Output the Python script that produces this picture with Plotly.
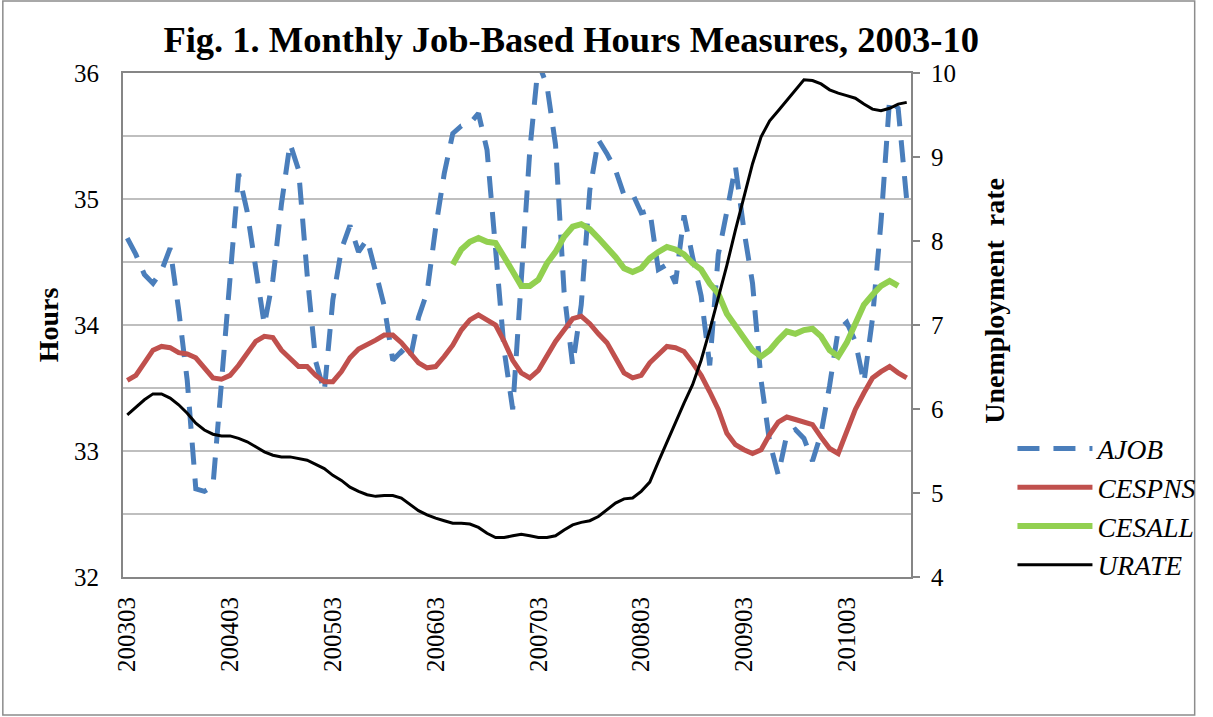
import plotly.graph_objects as go

# ---- data -------------------------------------------------------------
months = []
for yr in range(2003, 2011):
    for m in range(1, 13):
        if (yr == 2003 and m < 3) or (yr == 2010 and m > 10):
            continue
        months.append(f"{yr}{m:02d}")

tick_labels = ["200303", "200403", "200503", "200603",
               "200703", "200803", "200903", "201003"]

ajob = [34.69, 34.56, 34.40, 34.33, 34.43, 34.61, 34.12, 33.56, 32.70, 32.68,
        32.72, 33.54, 34.36, 35.20, 34.90, 34.44, 34.00, 34.36, 34.96, 35.44,
        35.23, 34.40, 33.71, 33.47, 34.20, 34.60, 34.79, 34.58, 34.68, 34.42,
        34.15, 33.72, 33.79, 33.72, 34.06, 34.26, 34.77, 35.20, 35.52, 35.58,
        35.60, 35.68, 35.39, 34.60, 33.80, 33.33, 34.36, 35.39, 36.08, 35.90,
        35.43, 34.26, 33.68, 34.16, 35.07, 35.47, 35.36, 35.23, 35.03, 35.04,
        34.89, 34.91, 34.44, 34.48, 34.33, 34.87, 34.54, 34.23, 33.68, 34.56,
        34.90, 35.26, 34.75, 34.33, 33.56, 33.07, 32.81, 33.13, 33.17, 33.10,
        32.92, 33.14, 33.52, 33.96, 34.02, 33.87, 33.54, 34.05, 34.82, 35.79,
        35.72, 34.99]

cespns = [33.56, 33.60, 33.70, 33.80, 33.83, 33.82, 33.78, 33.77, 33.74, 33.66,
          33.58, 33.57, 33.60, 33.68, 33.78, 33.87, 33.91, 33.90, 33.80, 33.74,
          33.67, 33.67, 33.60, 33.55, 33.55, 33.63, 33.74, 33.81, 33.84, 33.88,
          33.92, 33.92, 33.86, 33.78, 33.70, 33.66, 33.67, 33.75, 33.84, 33.96,
          34.04, 34.08, 34.04, 34.00, 33.87, 33.72, 33.62, 33.58, 33.64, 33.76,
          33.87, 33.96, 34.05, 34.07, 34.01, 33.93, 33.86, 33.74, 33.62, 33.58,
          33.60, 33.70, 33.76, 33.83, 33.82, 33.79, 33.70, 33.60, 33.47, 33.33,
          33.14, 33.05, 33.01, 32.98, 33.01, 33.13, 33.23, 33.27, 33.25, 33.23,
          33.21, 33.11, 33.02, 32.98, 33.15, 33.33, 33.46, 33.58, 33.63, 33.67,
          33.62, 33.58]

cesall = [None] * 38 + [
          34.48, 34.60, 34.66, 34.69, 34.66, 34.65, 34.54, 34.42, 34.31, 34.31,
          34.36, 34.49, 34.58, 34.70, 34.78, 34.80, 34.76, 34.69, 34.62, 34.54,
          34.45, 34.42, 34.45, 34.53, 34.58, 34.62, 34.60, 34.56, 34.49, 34.44,
          34.33, 34.25, 34.09, 33.99, 33.90, 33.80, 33.75, 33.80, 33.88, 33.95,
          33.93, 33.96, 33.97, 33.91, 33.80, 33.75, 33.86, 34.01, 34.16, 34.24,
          34.31, 34.35, 34.31] + [None]

urate = [5.93, 6.02, 6.11, 6.18, 6.18, 6.13, 6.05, 5.95, 5.83, 5.75,
         5.70, 5.68, 5.68, 5.65, 5.61, 5.55, 5.49, 5.45, 5.43, 5.43,
         5.41, 5.39, 5.34, 5.29, 5.21, 5.15, 5.07, 5.02, 4.98, 4.96,
         4.97, 4.97, 4.94, 4.86, 4.79, 4.74, 4.70, 4.67, 4.64, 4.64,
         4.63, 4.59, 4.52, 4.47, 4.47, 4.49, 4.51, 4.49, 4.47, 4.47,
         4.49, 4.56, 4.62, 4.65, 4.67, 4.72, 4.80, 4.88, 4.93, 4.94,
         5.02, 5.13, 5.37, 5.61, 5.85, 6.07, 6.29, 6.58, 6.94, 7.32,
         7.71, 8.13, 8.54, 8.92, 9.24, 9.43, 9.55, 9.67, 9.80, 9.92,
         9.91, 9.87, 9.80, 9.76, 9.73, 9.70, 9.63, 9.57, 9.55, 9.58,
         9.63, 9.65]

# ---- figure -----------------------------------------------------------
FONT = "Liberation Serif, Times New Roman, serif"
GRID = "#BFBFBF"
AXIS = "#868686"

fig = go.Figure()
fig.add_trace(go.Scatter(x=months, y=ajob, name="AJOB", mode="lines",
                         legendgroup="a",
                         line=dict(color="#4A7EBB", width=5, dash="22px,14px")))
fig.add_trace(go.Scatter(x=months, y=cespns, name="CESPNS", mode="lines",
                         legendgroup="b",
                         line=dict(color="#C0504D", width=5)))
fig.add_trace(go.Scatter(x=months, y=cesall, name="CESALL", mode="lines",
                         legendgroup="c",
                         line=dict(color="#92D050", width=6)))
fig.add_trace(go.Scatter(x=months, y=urate, name="URATE", mode="lines",
                         legendgroup="d", yaxis="y2",
                         line=dict(color="#000000", width=3)))

L, R, T, B = 123, 923, 73, 577
W, H = 1213, 717

def px(xp):
    return (xp - L) / (R - L)

def py(yp):
    return (B - yp) / (B - T)

fig.update_layout(
    width=W, height=H, autosize=False,
    margin=dict(l=L, r=W - R, t=T, b=H - B, pad=0),
    paper_bgcolor="white", plot_bgcolor="white",
    font=dict(family=FONT, size=25, color="black"),
    title=dict(text="<b>Fig. 1. Monthly Job-Based Hours Measures, 2003-10</b>",
               font=dict(family=FONT, size=36.5, color="black"),
               x=px(578), xref="paper", xanchor="center",
               y=1 - 39 / H, yref="container", yanchor="middle"),
    xaxis=dict(type="category", range=[-0.5, len(months) - 0.5],
               tickmode="array", tickvals=tick_labels, ticktext=tick_labels,
               tickangle=-90, ticks="", showgrid=False,
               showline=True, linecolor=AXIS, linewidth=2, mirror=True,
               tickfont=dict(family=FONT, size=25, color="black"),
               ticklabelstandoff=8),
    yaxis=dict(range=[32, 36], dtick=1, tick0=32, showgrid=True,
               gridcolor=GRID, gridwidth=1.5,
               minor=dict(dtick=0.5, showgrid=True, gridcolor=GRID, gridwidth=1.5),
               showline=True, linecolor=AXIS, linewidth=2, zeroline=False,
               ticks="", ticklabelstandoff=17,
               tickfont=dict(family=FONT, size=25, color="black"),
               title=dict(text="<b>Hours</b>", standoff=7,
                          font=dict(family=FONT, size=28, color="black"))),
    yaxis2=dict(range=[4, 10], dtick=1, overlaying="y", side="right",
                showgrid=False, zeroline=False,
                showline=True, linecolor=AXIS, linewidth=2,
                ticks="outside", ticklen=7, tickcolor=AXIS, tickwidth=1.5,
                ticklabelstandoff=6,
                tickfont=dict(family=FONT, size=25, color="black")),
    annotations=[dict(text="<b>Unemployment\u00a0 rate</b>", textangle=-90,
                      xref="paper", yref="paper", x=px(1007), y=py(301),
                      xanchor="center", yanchor="middle", showarrow=False,
                      font=dict(family=FONT, size=28, color="black"))],
    legend=dict(x=px(1026), xanchor="left", y=py(424), yanchor="top",
                font=dict(family=FONT, size=27.5, color="black", style="italic"),
                bgcolor="rgba(0,0,0,0)", tracegroupgap=0, itemwidth=75),
    showlegend=True,
    shapes=[dict(type="rect", xref="paper", yref="paper",
                 x0=px(1), x1=px(1211), y0=py(715), y1=py(1),
                 line=dict(color="#8C8C8C", width=1.5), layer="below")],
)

fig.write_html(
    "out.html",
    config={"responsive": False, "displayModeBar": False},
    post_script=("document.documentElement.style.overflow='hidden';"
                 "document.body.style.overflow='hidden';"
                 "document.body.style.margin='0px';"),
)
